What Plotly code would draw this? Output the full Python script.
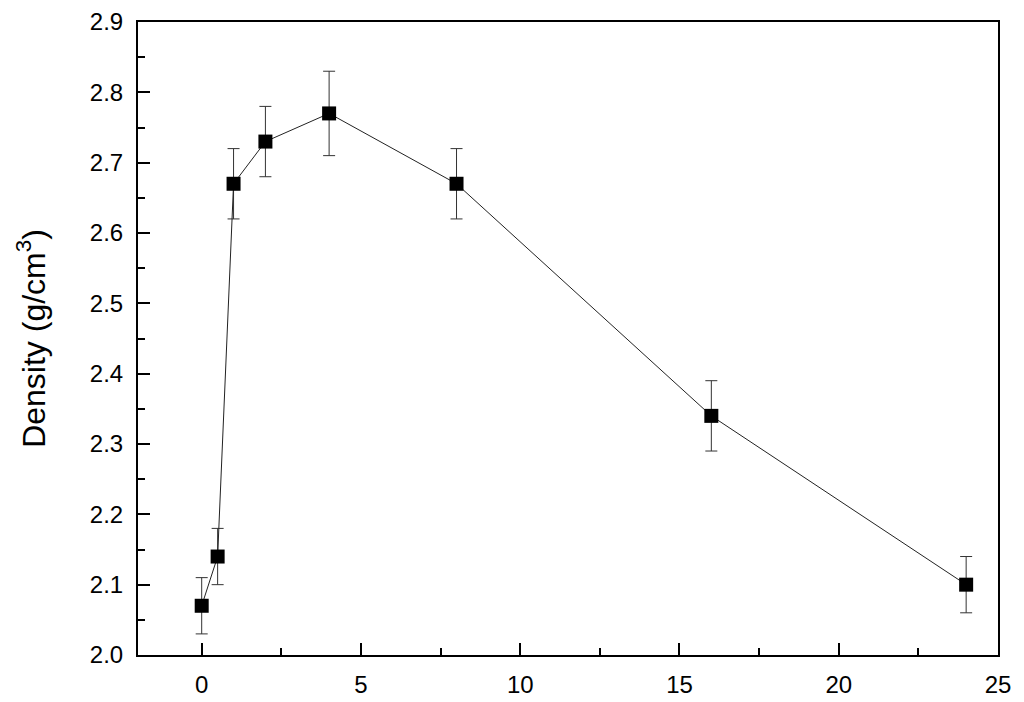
import plotly.graph_objects as go

time_h = [0, 0.5, 1, 2, 4, 8, 16, 24]
density = [2.07, 2.14, 2.67, 2.73, 2.77, 2.67, 2.34, 2.10]
density_err = [0.04, 0.04, 0.05, 0.05, 0.06, 0.05, 0.05, 0.04]

fig = go.Figure()
fig.add_trace(go.Scatter(
    x=time_h, y=density,
    mode="lines+markers",
    line=dict(color="#222222", width=1),
    marker=dict(symbol="square", size=14, color="black"),
    error_y=dict(type="data", array=density_err, visible=True,
                 color="#333333", thickness=1, width=6),
    showlegend=False,
))

axis_common = dict(
    showline=True, linecolor="black", linewidth=2, mirror=True,
    ticks="inside", ticklen=12, tickwidth=2, tickcolor="black",
    showgrid=False, zeroline=False, automargin=False,
    tickfont=dict(family="Liberation Sans, Arial", size=24, color="black"),
)

fig.update_xaxes(range=[-2, 25], tick0=0, dtick=5, ticklabelstandoff=7,
                 minor=dict(ticks="inside", ticklen=7, tickwidth=2,
                            tickcolor="black", dtick=2.5, tick0=0),
                 **axis_common)
fig.update_yaxes(range=[2.0, 2.9], tick0=2.0, dtick=0.1, tickformat=".1f",
                 ticklabelstandoff=8,
                 minor=dict(ticks="inside", ticklen=7, tickwidth=2,
                            tickcolor="black", dtick=0.05, tick0=2.0),
                 title=dict(text="Density (g/cm<sup>3</sup>)", standoff=35,
                            font=dict(family="Liberation Sans, Arial", size=32,
                                      color="black")),
                 **axis_common)

# page body adds an 8px offset, so shrink the figure to fit the window
fig.update_layout(
    width=1016, height=694,
    margin=dict(l=130, r=26, t=14, b=47),
    plot_bgcolor="white", paper_bgcolor="white",
)

fig.write_html("out.html")
